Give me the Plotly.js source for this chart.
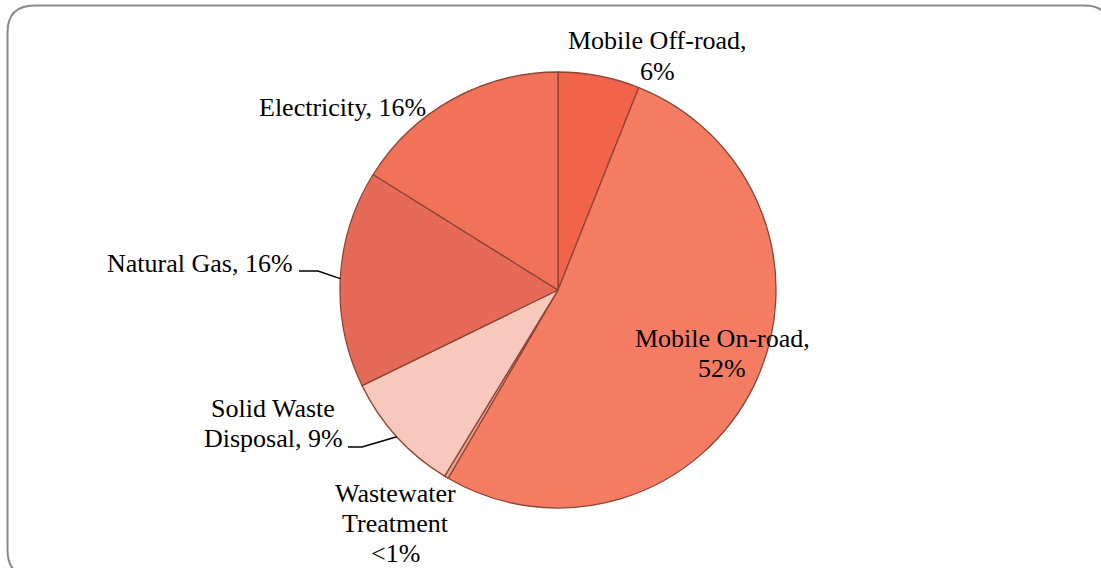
<!DOCTYPE html>
<html>
<head>
<meta charset="utf-8">
<script src="https://cdn.plot.ly/plotly-3.0.1.min.js"></script>
<style>
  html, body { margin: 0; padding: 0; background: #ffffff; overflow: hidden; }
  #chart { width: 1101px; height: 568px; }
</style>
</head>
<body>
<div id="chart"></div>
<script>
// ---- data ----
const categories = ['Mobile Off-road', 'Mobile On-road', 'Wastewater Treatment', 'Solid Waste Disposal', 'Natural Gas', 'Electricity'];
const values = [6, 52, 0.3, 9, 16, 16];
const percentLabels = ['6%', '52%', '<1%', '9%', '16%', '16%'];
const sliceColors = ['#F2644A', '#F47C63', '#E7A292', '#F8C8BC', '#E56A58', '#F07259'];

// label line breaks (text), one entry per category
const labelLines = [
  ['Mobile Off-road,', percentLabels[0]],
  ['Mobile On-road,', percentLabels[1]],
  ['Wastewater', 'Treatment', percentLabels[2]],
  ['Solid Waste', 'Disposal, ' + percentLabels[3]],
  ['Natural Gas, ' + percentLabels[4]],
  ['Electricity, ' + percentLabels[5]]
];

// ---- layout constants (pixels) ----
const W = 1101, H = 568;
const CX = 558, CY = 290, R = 218;
const FONT = 'Liberation Serif, Times New Roman, serif';
const FS = 26, LINE_GAP = 30;
// label anchor: center x, first-line baseline y
const labelPos = [[657, 50], [722, 347], [395, 502], [273, 417], [200, 272], [342, 117]];
// leader lines: category index, start of line (text end), bend x
const leaders = [
  {i: 4, x0: 299, y0: 271, bx: 318},
  {i: 3, x0: 348, y0: 447, bx: 362}
];

const px = x => x / W;
const py = y => 1 - y / H;

// ---- pie ----
const trace = {
  type: 'pie',
  labels: categories,
  values: values,
  sort: false,
  direction: 'clockwise',
  rotation: 0,
  textinfo: 'none',
  hoverinfo: 'label+percent',
  showlegend: false,
  marker: { colors: sliceColors, line: { color: '#8E4436', width: 1.3 } },
  domain: { x: [px(CX - R), px(CX + R)], y: [py(CY + R), py(CY - R)] }
};

// ---- annotations ----
const annotations = [];
labelLines.forEach((lines, i) => {
  lines.forEach((t, k) => {
    annotations.push({
      xref: 'paper', yref: 'paper',
      x: px(labelPos[i][0]), y: py(labelPos[i][1] + k * LINE_GAP - 9),
      xanchor: 'center', yanchor: 'middle',
      text: t, showarrow: false,
      font: { family: FONT, size: FS, color: '#000000' }
    });
  });
});

// ---- leader lines computed from slice mid-angles ----
const total = values.reduce((a, b) => a + b, 0);
const cum = [];
values.reduce((acc, v, i) => { cum[i] = acc; return acc + v; }, 0);
const shapes = [];
leaders.forEach(L => {
  const frac = (cum[L.i] + values[L.i] / 2) / total;
  const ang = frac * 2 * Math.PI;
  const ex = CX + R * Math.sin(ang), ey = CY - R * Math.cos(ang);
  shapes.push({
    type: 'path', xref: 'paper', yref: 'paper',
    path: `M ${px(L.x0)} ${py(L.y0)} L ${px(L.bx)} ${py(L.y0)} L ${px(ex)} ${py(ey)}`,
    line: { color: '#000000', width: 1.5 }
  });
});

// ---- rounded border ----
const bx0 = 7.5, by0 = 5.5, bx1 = 1111, by1 = 577, rr = 27;
shapes.push({
  type: 'path', xref: 'paper', yref: 'paper',
  path: `M ${px(bx0 + rr)} ${py(by0)} L ${px(bx1 - rr)} ${py(by0)} Q ${px(bx1)} ${py(by0)} ${px(bx1)} ${py(by0 + rr)} ` +
        `L ${px(bx1)} ${py(by1 - rr)} Q ${px(bx1)} ${py(by1)} ${px(bx1 - rr)} ${py(by1)} ` +
        `L ${px(bx0 + rr)} ${py(by1)} Q ${px(bx0)} ${py(by1)} ${px(bx0)} ${py(by1 - rr)} ` +
        `L ${px(bx0)} ${py(by0 + rr)} Q ${px(bx0)} ${py(by0)} ${px(bx0 + rr)} ${py(by0)} Z`,
  line: { color: '#8A8A8A', width: 2 },
  layer: 'below'
});

const layout = {
  width: W, height: H,
  margin: { l: 0, r: 0, t: 0, b: 0 },
  paper_bgcolor: '#ffffff',
  plot_bgcolor: '#ffffff',
  showlegend: false,
  annotations: annotations,
  shapes: shapes
};

Plotly.newPlot('chart', [trace], layout, { staticPlot: true, displayModeBar: false });
</script>
</body>
</html>
